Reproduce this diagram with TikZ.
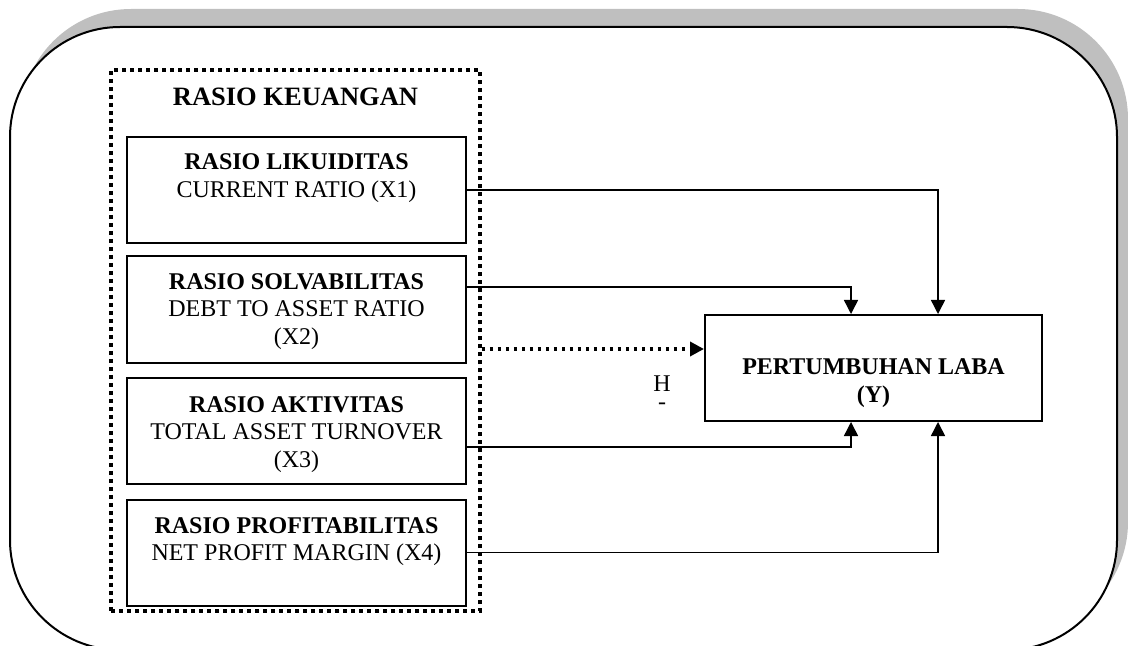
\documentclass[tikz,border=0pt]{standalone}
\usepackage{fontspec}
\setmainfont{Liberation Serif}
\usetikzlibrary{arrows.meta,positioning}

\begin{document}
\begin{tikzpicture}[x=0.5pt,y=-0.5pt]
	\tikzset{font=\fontsize{12}{13.8}\selectfont}
	\tikzset{ratio/.style = {shape=rectangle,draw,line width=1pt,minimum width=169.5pt,minimum height=53pt,inner sep=0pt}}
	\tikzset{group/.style = {shape=rectangle,draw,line width=1.8pt,dash pattern=on 1.8pt off 2.2pt,minimum width=184.5pt,minimum height=270.5pt,inner sep=0pt}}
	\tikzset{txt/.style = {align=center,inner sep=0pt}}
	\tikzset{link/.style = {-{Triangle[length=7pt,width=7pt]},line width=0.75pt}}
	\tikzset{dotlink/.style = {-{Triangle[length=7pt,width=7pt]},line width=1.8pt,dash pattern=on 1.8pt off 2.2pt}}
	\useasboundingbox (0,0) rectangle (1128,646);
	% frame
	\fill[black!25,rounded corners=55pt] (21,9) rectangle (1128,632);
	\filldraw[fill=white,line width=1pt,rounded corners=55pt] (10,27) rectangle (1117,650);
	% vertices
	\node[group] (kv) at (295.5,340.5) {};
	\node[txt,font=\fontsize{13.25}{15}\selectfont,below=9.8pt of kv.north] (kvt) {\textbf{RASIO KEUANGAN}};
	\node[ratio] (b1) at (296.5,190) {};
	\node[txt,below=8.65pt of b1.north] (t1) {\textbf{RASIO LIKUIDITAS}\\CURRENT RATIO (X1)};
	\node[ratio] (b2) at (296.5,309.5) {};
	\node[txt,below=8.65pt of b2.north] (t2) {\textbf{RASIO SOLVABILITAS}\\DEBT TO ASSET RATIO\\(X2)};
	\node[ratio] (b3) at (296.5,430.5) {};
	\node[txt,below=9.65pt of b3.north] (t3) {\textbf{RASIO AKTIVITAS}\\TOTAL ASSET TURNOVER\\(X3)};
	\node[ratio] (b4) at (296.5,552.5) {};
	\node[txt,below=9.15pt of b4.north] (t4) {\textbf{RASIO PROFITABILITAS}\\NET PROFIT MARGIN (X4)};
	\node[ratio,minimum width=168.5pt] (yb) at (873.5,368) {};
	\node[txt,below=22.15pt of yb.north] (yt) {\textbf{PERTUMBUHAN LABA}\\\textbf{(Y)}};
	\node[txt,font=\fontsize{12}{9}\selectfont,anchor=north] (hl) at (662,375.3) {H\\-};
	% edges
	\draw[link] (b1.east) -| ([xshift=32.25pt]yb.north);
	\draw[link] ([yshift=11.25pt]b2.east) -| ([xshift=-11.25pt]yb.north);
	\draw[link] ([yshift=-8.25pt]b3.east) -| ([xshift=-11.25pt]yb.south);
	\draw[link] (b4.east) -| ([xshift=32.25pt]yb.south);
	\coordinate (hin) at ([yshift=9.5pt]yb.west);
	\draw[dotlink] (kv.east |- hin) -- (hin);
\end{tikzpicture}
\end{document}
